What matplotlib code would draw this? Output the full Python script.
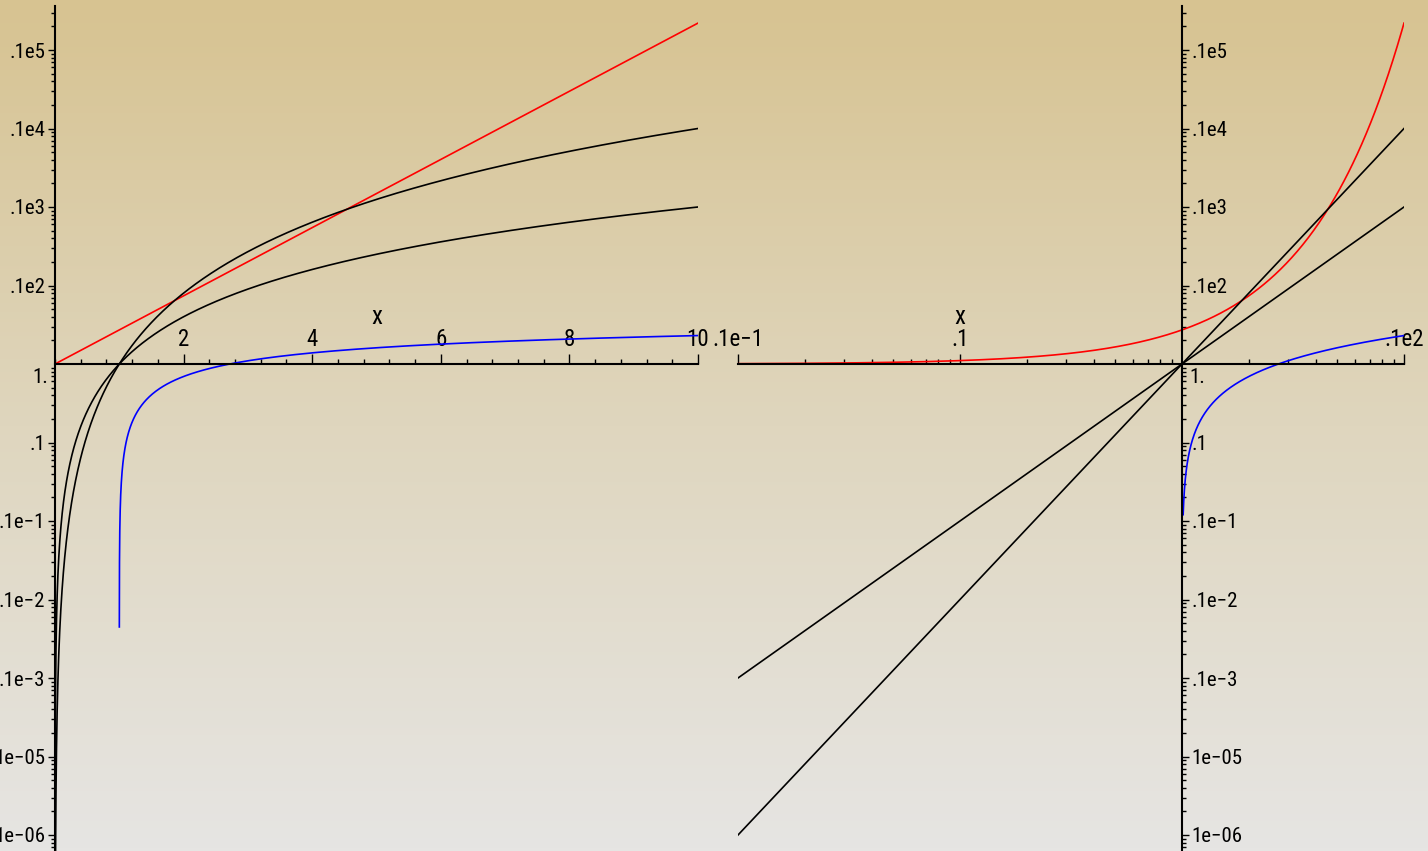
import numpy as np
import matplotlib.pyplot as plt
from matplotlib.colors import LinearSegmentedColormap
from matplotlib.ticker import FixedLocator, FixedFormatter, MultipleLocator, LogLocator, NullFormatter

plt.rcParams['font.family'] = ['Roboto Condensed', 'Archivo Narrow', 'Liberation Sans', 'DejaVu Sans']

# functions drawn: exp(x) in red, x^2 and x^3 in black, ln(x) in blue
powers = [2, 3]
left_range = (0.0, 10.0)
right_range = (0.01, 10.0)
ln_start_left = 1.000447    # first sample of ln(x) on the semilog panel
ln_start_right = 1.0121     # first sample of ln(x) on the loglog panel

# Maple style tick labels
y_ticks = [1e-6, 1e-5, 1e-4, 1e-3, 1e-2, 0.1, 10, 100, 1e3, 1e4]
y_labels = ['1e\u221206', '1e\u221205', '.1e\u22123', '.1e\u22122', '.1e\u22121', '.1',
            '.1e2', '.1e3', '.1e4', '.1e5']
left_xticks = [2, 4, 6, 8, 10]
left_xlabels = ['2', '4', '6', '8', '10']
right_xticks = [0.01, 0.1, 10]
right_xlabels = ['.1e\u22121', '.1', '.1e2']

W, H = 1428, 851
fig = plt.figure(figsize=(W / 100, H / 100), dpi=100)

# background gradient, tan at the top fading to grey
bg = fig.add_axes([0, 0, 1, 1], zorder=-1)
cmap = LinearSegmentedColormap.from_list('bg', ['#e6e5e3', '#dfd6be', '#d7c391'])
bg.imshow(np.linspace(0, 1, 256).reshape(-1, 1), cmap=cmap, aspect='auto',
          origin='lower', extent=[0, 1, 0, 1])
bg.axis('off')

# vertical scale: y=1 sits at row 364, one decade is 78.5 px
y0, dec, top_px = 364, 78.5, 6
ymax = 10 ** ((y0 - top_px) / dec)
ymin = 10 ** (-(H - y0) / dec)
ax_h = (H - top_px) / H

lw = 1.2
ylab_size = 15
xlab_size = 16.5


def style_y(ax, side):
    ax.yaxis.set_major_locator(FixedLocator(y_ticks))
    ax.yaxis.set_major_formatter(FixedFormatter(y_labels))
    ax.yaxis.set_minor_locator(LogLocator(base=10, subs=np.arange(2, 10), numticks=100))
    ax.yaxis.set_minor_formatter(NullFormatter())
    ax.yaxis.set_ticks_position(side)
    ax.tick_params(axis='y', which='major', direction='out', length=5, width=1, pad=2,
                   labelsize=ylab_size)
    ax.tick_params(axis='y', which='minor', direction='out', length=3, width=1)


def style_x(ax):
    ax.xaxis.set_ticks_position('top')
    ax.tick_params(axis='x', which='major', direction='out', length=7, width=1, pad=2,
                   labelsize=xlab_size)
    ax.tick_params(axis='x', which='minor', direction='out', length=3.5, width=1)


# semilog panel
ax1 = fig.add_axes([55 / W, 0, 643 / W, ax_h], facecolor='none')
ax1.set_yscale('log')
ax1.set_xlim(*left_range)
ax1.set_ylim(ymin, ymax)
for s in ['bottom', 'right']:
    ax1.spines[s].set_visible(False)
ax1.spines['top'].set_position(('data', 1))
ax1.spines['left'].set_linewidth(1.5)
ax1.spines['top'].set_linewidth(1.5)
style_y(ax1, 'left')
style_x(ax1)
ax1.xaxis.set_major_locator(FixedLocator(left_xticks))
ax1.xaxis.set_major_formatter(FixedFormatter(left_xlabels))
ax1.xaxis.set_minor_locator(MultipleLocator(0.4))
ax1.annotate('1.', xy=(0, 1), xytext=(-5, -10), textcoords='offset points',
             ha='right', va='center', fontsize=ylab_size)
ax1.annotate('x', xy=(0.5, 1), xycoords=('axes fraction', 'data'), xytext=(0, 34),
             textcoords='offset points', ha='center', va='center', fontsize=18)

xl = np.concatenate([np.geomspace(1e-4, 0.5, 400), np.linspace(0.5, left_range[1], 800)[1:]])
xe = np.linspace(*left_range, 200)
ax1.plot(xe, np.exp(xe), color='red', lw=lw)
for p in powers:
    ax1.plot(xl, xl ** p, color='black', lw=lw)
xb = 1 + np.geomspace(ln_start_left - 1, left_range[1] - 1, 600)
ax1.plot(xb, np.log(xb), color='blue', lw=lw)

# loglog panel
ax2 = fig.add_axes([738 / W, 0, 666 / W, ax_h], facecolor='none')
ax2.set_xscale('log')
ax2.set_yscale('log')
ax2.set_xlim(*right_range)
ax2.set_ylim(ymin, ymax)
for s in ['bottom', 'left']:
    ax2.spines[s].set_visible(False)
ax2.spines['top'].set_position(('data', 1))
ax2.spines['right'].set_position(('data', 1))
ax2.spines['right'].set_linewidth(1.5)
ax2.spines['top'].set_linewidth(1.5)
style_y(ax2, 'right')
style_x(ax2)
ax2.xaxis.set_major_locator(FixedLocator(right_xticks))
ax2.xaxis.set_major_formatter(FixedFormatter(right_xlabels))
ax2.xaxis.set_minor_locator(LogLocator(base=10, subs=np.arange(2, 10), numticks=100))
ax2.xaxis.set_minor_formatter(NullFormatter())
ax2.annotate('1.', xy=(1, 1), xytext=(5, -10), textcoords='offset points',
             ha='left', va='center', fontsize=ylab_size)
ax2.annotate('x', xy=(0.1, 1), xytext=(0, 34), textcoords='offset points',
             ha='center', va='center', fontsize=18)

xr = np.geomspace(*right_range, 600)
ax2.plot(xr, np.exp(xr), color='red', lw=lw)
for p in powers:
    ax2.plot(xr, xr ** p, color='black', lw=lw)
xb2 = 1 + np.geomspace(ln_start_right - 1, right_range[1] - 1, 600)
ax2.plot(xb2, np.log(xb2), color='blue', lw=lw)

fig.savefig('out.png', dpi=100)
